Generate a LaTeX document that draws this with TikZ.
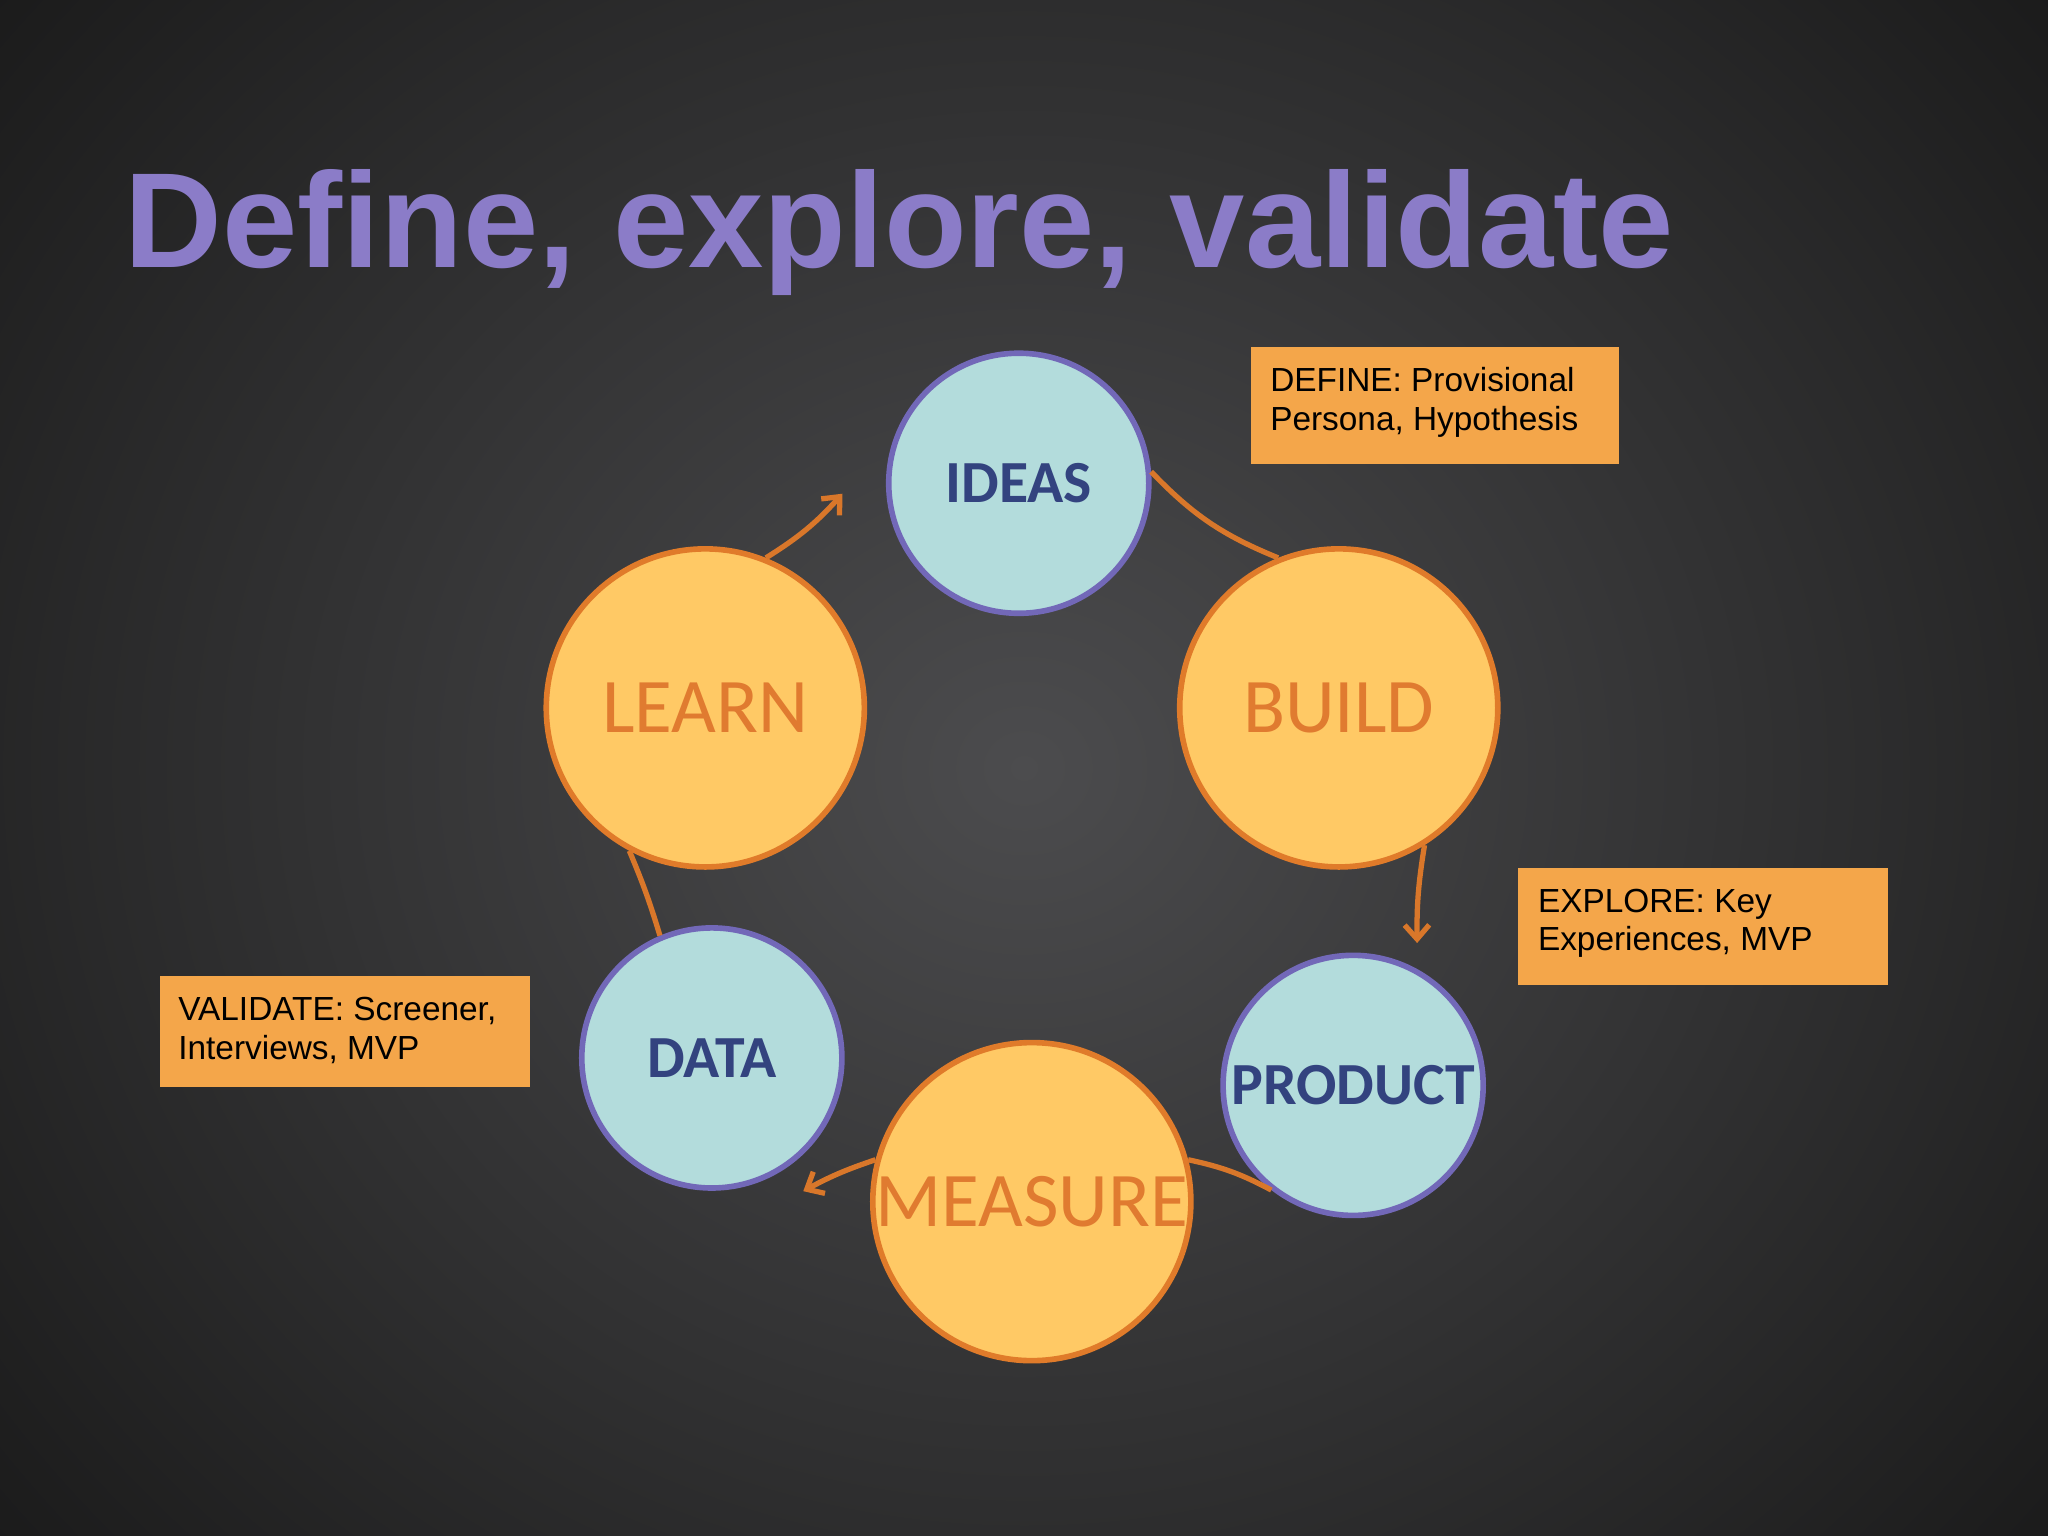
\documentclass[tikz,border=0pt]{standalone}
\usepackage{fontspec}
\setmainfont{Liberation Sans}
\newfontfamily\calfont{Carlito}
\usetikzlibrary{arrows.meta}
\definecolor{ttl}{HTML}{8B7CC8}
\definecolor{boxc}{HTML}{F4A64A}
\definecolor{bfill}{HTML}{B3DCDC}
\definecolor{bline}{HTML}{7268B8}
\definecolor{btext}{HTML}{33437F}
\definecolor{ofill}{HTML}{FFC965}
\definecolor{oline}{HTML}{E07B2A}
\definecolor{otext}{HTML}{E07B30}
\definecolor{arr}{HTML}{D9772A}
\tikzset{
 bc/.style={circle,draw=bline,fill=bfill,line width=1.6pt,font=\calfont\bfseries\fontsize{17}{20}\selectfont,text=btext,inner sep=0,minimum size=74pt},
 oc/.style={circle,draw=oline,fill=ofill,line width=1.6pt,font=\calfont\fontsize{22}{26}\selectfont,text=otext,inner sep=0,minimum size=90.5pt},
 lbl/.style={fill=boxc,anchor=north west,inner sep=0},
 con/.style={draw=arr,line width=1.5pt},
 tip/.style={-{Straight Barb[length=4pt,width=7pt]}}
}
\begin{document}
\begin{tikzpicture}[x=0.013061cm,y=-0.013061cm]
\useasboundingbox (0,0) rectangle (1568,1176);
\shade[inner color={rgb,255:red,76;green,76;blue,78},outer color={rgb,255:red,24;green,24;blue,24}] (-300,-400) rectangle (1868,1576);
\node[anchor=base west,inner sep=0,text=ttl,font=\bfseries\fontsize{38.5}{40}\selectfont] (title) at (95,205) {Define, explore, validate};
\node[bc] (ideas) at (780,370) {IDEAS};
\node[oc] (build) at (1025,542) {BUILD};
\node[bc] (product) at (1036,831) {PRODUCT};
\node[oc] (measure) at (790,920) {MEASURE};
\node[bc] (data) at (545,810) {DATA};
\node[oc] (learn) at (540,542) {LEARN};
\draw[con] (ideas.5) to[bend right=12] (build.112);
\draw[con,tip] (build.-58) to[bend right=5] (1085,722);
\draw[con] (product.-128) to[bend right=8] (measure.15);
\draw[con,tip] (measure.165) to[bend right=5] (615,912);
\draw[con] (data.113) to[bend right=3] (learn.-118);
\draw[con,tip] (learn.68) to[bend right=8] (645,378);
\node[lbl,minimum width=104.8pt,minimum height=33.3pt] (b1) at (957,265) {};
\node[anchor=north west,align=left,inner sep=0,font=\fontsize{9.5}{11}\selectfont] at (972,281) {DEFINE: Provisional\\Persona, Hypothesis};
\node[lbl,minimum width=105.2pt,minimum height=33.3pt] (b2) at (1162,664) {};
\node[anchor=north west,align=left,inner sep=0,font=\fontsize{9.5}{11}\selectfont] at (1177,680) {EXPLORE: Key\\Experiences, MVP};
\node[lbl,minimum width=105.2pt,minimum height=31.5pt] (b3) at (122,747) {};
\node[anchor=north west,align=left,inner sep=0,font=\fontsize{9.5}{11}\selectfont] at (136,763) {VALIDATE: Screener,\\Interviews, MVP};
\end{tikzpicture}
\end{document}
